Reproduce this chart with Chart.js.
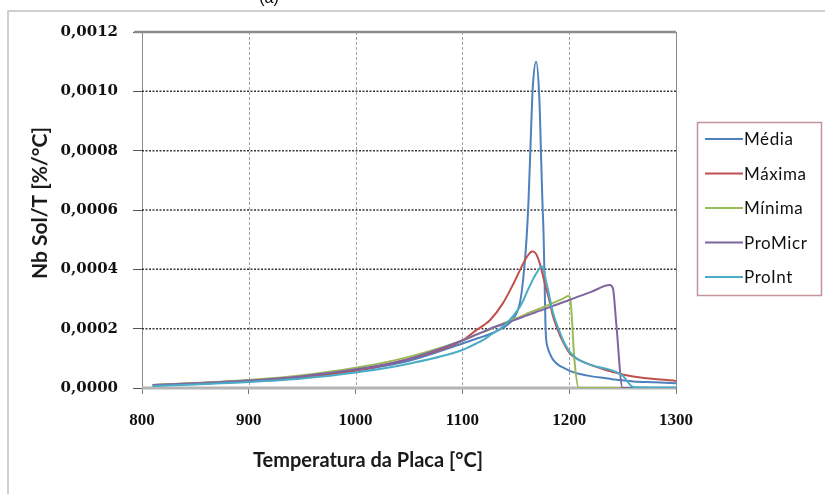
<!DOCTYPE html>
<html lang="pt">
<head>
<meta charset="UTF-8">
<title>Nb Sol/T</title>
<script src="https://cdn.jsdelivr.net/npm/chart.js"></script>
<style>
  html, body { margin: 0; padding: 0; background: #fff; }
  #wrap { width: 825px; height: 494px; position: relative; }
</style>
</head>
<body>
<div id="wrap"><canvas id="myChart" width="825" height="494"></canvas></div>
<script>
// temperature grid [°C] shared by all series
const temps = [810, 850, 900, 950, 1000, 1050, 1100, 1113, 1120, 1126, 1138, 1148, 1154, 1157, 1160, 1162, 1164,
  1165, 1166, 1169, 1172, 1174, 1175, 1176, 1177, 1178, 1180, 1182, 1185, 1191, 1195, 1199, 1201, 1205, 1209,
  1220, 1238, 1241, 1244, 1250, 1255, 1260, 1280, 1300];

const media = [0.000008, 0.000014, 0.000022, 0.000036, 0.000058, 0.000092, 0.000150, 0.000166, 0.000174, 0.000182,
  0.000203, 0.000235, 0.000290, 0.000370, 0.000500, 0.000640, 0.000840, 0.000940, 0.001020, 0.001100, 0.000980,
  0.000740, 0.000620, 0.000520, 0.000350, 0.000190, 0.000135, 0.000115, 0.000095, 0.000075, 0.000068, 0.000060,
  0.000057, 0.000052, 0.000048, 0.000040, 0.000031, 0.000029, 0.000028, 0.000026, 0.000024, 0.000022, 0.000019,
  0.000016];
const maxima = [0.000010, 0.000016, 0.000025, 0.000038, 0.000060, 0.000098, 0.000160, 0.000195, 0.000212, 0.000229,
  0.000286, 0.000353, 0.000398, 0.000420, 0.000440, 0.000450, 0.000458, 0.000460, 0.000460, 0.000452, 0.000425,
  0.000398, 0.000385, 0.000370, 0.000355, 0.000340, 0.000315, 0.000286, 0.000240, 0.000180, 0.000150, 0.000125,
  0.000115, 0.000103, 0.000095, 0.000078, 0.000057, 0.000054, 0.000051, 0.000046, 0.000042, 0.000039, 0.000030,
  0.000024];
const minima = [0.000010, 0.000017, 0.000027, 0.000043, 0.000068, 0.000105, 0.000160, 0.000180, 0.000190, 0.000198,
  0.000218, 0.000232, 0.000240, 0.000245, 0.000250, 0.000253, 0.000256, 0.000257, 0.000259, 0.000263, 0.000267,
  0.000270, 0.000272, 0.000273, 0.000275, 0.000276, 0.000279, 0.000282, 0.000287, 0.000296, 0.000303, 0.000310,
  0.000300, 0.000090, 0, 0, 0, 0, 0, 0, 0, 0, 0,
  0];
const proMicr = [0.000010, 0.000016, 0.000025, 0.000040, 0.000063, 0.000098, 0.000160, 0.000180, 0.000190, 0.000200,
  0.000215, 0.000228, 0.000236, 0.000240, 0.000244, 0.000247, 0.000249, 0.000251, 0.000252, 0.000256, 0.000260,
  0.000262, 0.000264, 0.000265, 0.000266, 0.000268, 0.000270, 0.000273, 0.000277, 0.000285, 0.000290, 0.000295,
  0.000298, 0.000303, 0.000309, 0.000323, 0.000347, 0.000335, 0.000220, 0, 0, 0, 0,
  0];
const proInt = [0.000007, 0.000012, 0.000020, 0.000032, 0.000052, 0.000082, 0.000128, 0.000150, 0.000163, 0.000178,
  0.000207, 0.000245, 0.000275, 0.000295, 0.000320, 0.000336, 0.000350, 0.000358, 0.000366, 0.000385, 0.000402,
  0.000410, 0.000408, 0.000400, 0.000385, 0.000365, 0.000335, 0.000300, 0.000252, 0.000190, 0.000155, 0.000130,
  0.000120, 0.000105, 0.000095, 0.000078, 0.000062, 0.000058, 0.000054, 0.000042, 0.000020, 0.000003, 0.000002,
  0.000002];

const seriesNames = ['Média', 'Máxima', 'Mínima', 'ProMicr', 'ProInt'];
const seriesValues = [media, maxima, minima, proMicr, proInt];
const seriesColors = ['#4f81bd', '#c0504d', '#9bbb59', '#8064a2', '#4bacc6'];

const xTicks = [800, 900, 1000, 1100, 1200, 1300];
const yMax = 0.0012, yStep = 0.0002;

const datasets = seriesNames.map((name, i) => ({
  label: name,
  data: temps.map((t, k) => ({ x: t, y: seriesValues[i][k] })),
  borderColor: seriesColors[i],
  backgroundColor: seriesColors[i],
  borderWidth: 2,
  pointRadius: 0,
  cubicInterpolationMode: 'monotone',
  fill: false,
  order: 5 - i
}));

// grid lines, frame, titles and legend box like the Excel original
const excelLook = {
  id: 'excelLook',
  beforeDatasetsDraw(chart) {
    const { ctx, chartArea: a, scales: { x, y } } = chart;
    ctx.save();
    // vertical light dashed
    ctx.strokeStyle = '#a0a0a0'; ctx.lineWidth = 1; ctx.setLineDash([3, 2]);
    xTicks.slice(1, -1).forEach(t => {
      const px = Math.round(x.getPixelForValue(t)) + 0.5;
      ctx.beginPath(); ctx.moveTo(px, a.top); ctx.lineTo(px, a.bottom); ctx.stroke();
    });
    // horizontal dark dotted
    ctx.strokeStyle = '#3a3a3a'; ctx.lineWidth = 1.5; ctx.setLineDash([2, 1.5]);
    for (let v = yStep; v < yMax - 1e-9; v += yStep) {
      const py = y.getPixelForValue(v);
      ctx.beginPath(); ctx.moveTo(a.left, py); ctx.lineTo(a.right, py); ctx.stroke();
    }
    ctx.setLineDash([]);
    // frame
    ctx.strokeStyle = '#8c8c8c'; ctx.lineWidth = 2.5;
    ctx.beginPath(); ctx.moveTo(a.left - 8, a.top); ctx.lineTo(a.right, a.top); ctx.stroke();
    ctx.lineWidth = 1;
    ctx.beginPath(); ctx.moveTo(a.right + 0.5, a.top); ctx.lineTo(a.right + 0.5, a.bottom); ctx.stroke();
    ctx.strokeStyle = '#b4b4b4'; ctx.lineWidth = 3;
    ctx.beginPath(); ctx.moveTo(a.left, a.bottom); ctx.lineTo(a.right, a.bottom); ctx.stroke();
    ctx.restore();
  },
  afterDraw(chart) {
    const { ctx } = chart;
    ctx.save();
    // outer chart border
    ctx.strokeStyle = '#c0c0c0'; ctx.lineWidth = 1.5;
    ctx.strokeRect(8, 11, 840, 500);
    // caption above
    ctx.fillStyle = '#000'; ctx.font = '16px "Liberation Sans"'; ctx.textAlign = 'center'; ctx.textBaseline = 'alphabetic';
    ctx.fillText('(a)', 269, 3);
    // axis titles
    ctx.fillStyle = '#1a1a1a';
    ctx.font = 'bold 20px Lato';
    ctx.textBaseline = 'middle';
    ctx.fillText('Temperatura da Placa [°C]', 368, 461);
    ctx.save();
    ctx.translate(40, 203); ctx.rotate(-Math.PI / 2);
    ctx.font = 'bold 21px Lato';
    ctx.fillText('Nb Sol/T [%/°C]', 0, 0);
    ctx.restore();
    // legend
    ctx.strokeStyle = '#c4939a'; ctx.lineWidth = 1.5;
    ctx.strokeRect(697.5, 122.5, 124, 173);
    ctx.font = '17px Lato'; ctx.textAlign = 'left';
    if ('letterSpacing' in ctx) ctx.letterSpacing = '0.6px';
    chart.data.datasets.forEach((ds, i) => {
      const cy = 139 + i * 34.5;
      ctx.strokeStyle = ds.borderColor; ctx.lineWidth = 2;
      ctx.beginPath(); ctx.moveTo(705, cy); ctx.lineTo(743, cy); ctx.stroke();
      ctx.fillStyle = '#111';
      ctx.fillText(ds.label, 744, cy + 1);
    });
    ctx.restore();
  }
};

new Chart(document.getElementById('myChart'), {
  type: 'line',
  data: { datasets: datasets },
  options: {
    responsive: false,
    animation: false,
    layout: { padding: { top: 32, right: 149, left: 0, bottom: 0 } },
    plugins: { legend: { display: false }, tooltip: { enabled: false } },
    scales: {
      x: {
        type: 'linear', min: 800, max: 1300,
        afterBuildTicks: s => { s.ticks = xTicks.map(v => ({ value: v })); },
        afterFit: s => { s.height = 106; },
        ticks: { color: '#111', font: { family: '"Liberation Serif"', size: 17, weight: 'bold' }, padding: 16, maxRotation: 0,
          callback: v => String(v) },
        grid: { drawOnChartArea: false, drawTicks: true, tickLength: 6, tickColor: '#777' },
        border: { display: false }
      },
      y: {
        min: 0, max: yMax,
        ticks: { stepSize: yStep, color: '#111', font: { family: '"DejaVu Serif"', size: 15, weight: 'bold' }, padding: 15,
          callback: v => v.toFixed(4).replace('.', ',') },
        afterFit: s => { s.width = 142; },
        grid: { drawOnChartArea: false, drawTicks: true, tickLength: 9, tickColor: '#555' },
        border: { display: true, color: '#8c8c8c', width: 1 }
      }
    }
  },
  plugins: [excelLook]
});
</script>
</body>
</html>
